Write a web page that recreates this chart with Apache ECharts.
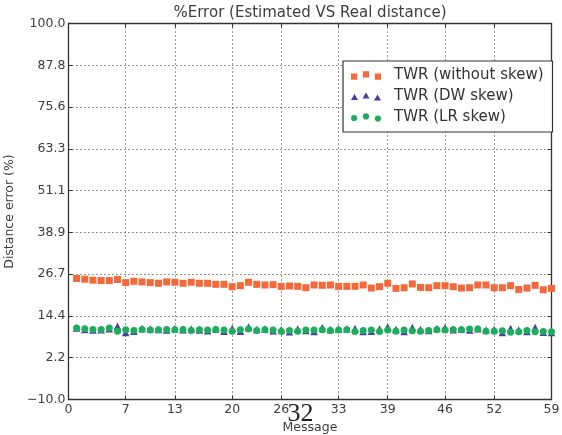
<!DOCTYPE html>
<html>
<head>
<meta charset="utf-8">
<script src="https://cdn.jsdelivr.net/npm/echarts@6/dist/echarts.min.js"></script>
<style>html,body{margin:0;padding:0;background:#fff;}#c{width:562px;height:435px;}</style>
</head>
<body>
<div id="c"></div>
<script>
// Message index for each measurement
var messages = [1,2,3,4,5,6,7,8,9,10,11,12,13,14,15,16,17,18,19,20,21,22,23,24,25,26,27,28,29,30,
  31,32,33,34,35,36,37,38,39,40,41,42,43,44,45,46,47,48,49,50,51,52,53,54,55,56,57,58,59];

var withoutSkew = [25.4,25.2,24.9,24.8,24.8,25.1,24.2,24.6,24.4,24.2,24.0,24.4,24.3,24.0,24.3,24.0,24.0,23.7,23.7,23.0,
  23.3,24.3,23.7,23.5,23.6,23.1,23.2,23.1,22.7,23.5,23.4,23.5,23.1,23.1,23.1,23.5,22.6,23.0,24.0,22.5,
  22.7,23.8,22.8,22.7,23.3,23.3,23.0,22.6,22.7,23.5,23.5,22.7,22.7,23.3,22.2,22.6,23.4,22.1,22.5];

var dwSkew = [10.9,10.5,10.3,10.4,10.7,11.4,9.6,10.0,10.8,10.6,10.5,10.3,10.7,10.4,10.6,10.3,10.1,10.6,10.0,10.8,
  10.0,11.2,10.5,10.6,10.1,10.4,9.8,10.6,10.2,9.9,11.0,10.5,10.6,10.7,10.8,9.9,10.0,10.6,11.2,10.5,
  9.9,11.1,10.5,10.2,10.8,11.0,10.4,10.6,10.3,10.7,10.3,10.5,9.6,10.8,10.3,9.9,11.1,9.7,9.6];

var lrSkew = [10.9,10.7,10.5,10.5,10.9,10.0,10.4,10.2,10.5,10.3,10.4,10.5,10.4,10.5,10.2,10.4,10.3,10.5,10.3,10.0,
  10.4,10.6,10.2,10.4,10.3,9.9,10.2,10.0,10.3,10.3,10.4,10.2,10.3,10.4,9.9,10.2,10.3,9.9,10.3,10.0,
  10.3,10.1,10.0,10.2,10.4,10.3,10.5,10.4,10.6,10.6,10.0,10.0,10.1,9.7,9.8,10.2,9.8,9.9,9.8];

var xTicks = [0,7,13,20,26,33,39,46,52,59];
var yTicks = [-10, 2.2222, 14.4444, 26.6667, 38.8889, 51.1111, 63.3333, 75.5556, 87.7778, 100];

var seriesNames = ['TWR (without skew)', 'TWR (DW skew)', 'TWR (LR skew)'];
var colors = ['#f4683a', '#43429c', '#1cae5c'];

function pairs(vals){ return vals.map(function(v,i){ return [messages[i], v]; }); }

var txt = '#3d3d3d';
var font = 'DejaVu Sans';
var gridLine = {show:true, lineStyle:{color:'#333', type:[1,3], width:1}};

var chart = echarts.init(document.getElementById('c'), null, {renderer:'canvas'});
chart.setOption({
  animation:false,
  backgroundColor:'#fff',
  textStyle:{fontFamily:font},
  grid:{left:68.4, right:10.5, top:23.5, bottom:35.5, containLabel:false, outerBoundsMode:'none'},
  xAxis:[{
    type:'value', min:0, max:59, position:'bottom',
    name:'Message', nameLocation:'middle', nameGap:21,
    nameTextStyle:{fontSize:12.5, color:txt, fontFamily:font, verticalAlign:'top'},
    axisLine:{show:true, onZero:false, lineStyle:{color:'#333', width:1.3}},
    axisTick:{show:true, inside:true, length:4, customValues:xTicks, lineStyle:{color:'#333'}},
    axisLabel:{show:true, customValues:xTicks, fontSize:12.5, color:txt, fontFamily:font, margin:4,
      formatter:function(v){return String(v);} },
    splitLine:gridLine
  },{
    type:'value', min:0, max:59, position:'top',
    axisLine:{show:true, onZero:false, lineStyle:{color:'#333', width:1.3}},
    axisTick:{show:true, inside:true, length:4, customValues:xTicks, lineStyle:{color:'#333'}},
    axisLabel:{show:false}, splitLine:{show:false}
  }],
  yAxis:[{
    type:'value', min:-10, max:100, position:'left',
    name:'Distance error (%)', nameLocation:'middle', nameGap:47, nameRotate:90,
    nameTextStyle:{fontSize:12.5, color:txt, fontFamily:font},
    axisLine:{show:true, onZero:false, lineStyle:{color:'#333', width:1.3}},
    axisTick:{show:true, inside:true, length:4, customValues:yTicks, lineStyle:{color:'#333'}},
    axisLabel:{show:true, customValues:yTicks, fontSize:12.5, color:txt, fontFamily:font, margin:3,
      formatter:function(v){ var s=v.toFixed(1); return s.replace('-', '\u2212'); } },
    splitLine:gridLine
  },{
    type:'value', min:-10, max:100, position:'right',
    axisLine:{show:true, onZero:false, lineStyle:{color:'#333', width:1.3}},
    axisTick:{show:true, inside:true, length:4, customValues:yTicks, lineStyle:{color:'#333'}},
    axisLabel:{show:false}, splitLine:{show:false}
  }],
  legend:{
    orient:'vertical', left:343, top:61, padding:[6,9,6,8], itemGap:4,
    itemWidth:30, itemHeight:10, borderColor:'#333', borderWidth:1.2, backgroundColor:'#fff',
    textStyle:{fontSize:15, color:'#333', fontFamily:font, padding:[0,0,0,8], lineHeight:17},
    data:[
      {name:seriesNames[0], icon:'path://M0,2h6v6h-6z M11.5,0h6v6h-6z M23,2h6v6h-6z'},
      {name:seriesNames[1], icon:'path://M3,1.5L6.5,7.5L-0.5,7.5z M14.5,0L18,6L11,6z M26,2L29.5,8L22.5,8z'},
      {name:seriesNames[2], icon:'path://M0,4.5a3,3 0 1,0 6,0a3,3 0 1,0 -6,0z M11.5,3a3,3 0 1,0 6,0a3,3 0 1,0 -6,0z M23,5a3,3 0 1,0 6,0a3,3 0 1,0 -6,0z'}
    ]
  },
  graphic:[
    {type:'text', x:310, y:13, silent:true,
      style:{text:'%Error (Estimated VS Real distance)', fill:txt, font:'15px "DejaVu Sans"', textAlign:'center', textVerticalAlign:'middle'}},
    {type:'text', x:300.5, y:414, silent:true, z:100,
      style:{text:'32', fill:'#222', font:'26px "Liberation Serif"', textAlign:'center', textVerticalAlign:'middle'}}
  ],
  series:[
    {name:seriesNames[0], type:'scatter', symbol:'rect', symbolSize:7, data:pairs(withoutSkew),
      itemStyle:{color:colors[0], opacity:1}, z:3},
    {name:seriesNames[1], type:'scatter', symbol:'triangle', symbolSize:7.5, data:pairs(dwSkew),
      itemStyle:{color:colors[1], opacity:1}, z:3},
    {name:seriesNames[2], type:'scatter', symbol:'circle', symbolSize:7, data:pairs(lrSkew),
      itemStyle:{color:colors[2], opacity:1}, z:4}
  ]
});
</script>
</body>
</html>
